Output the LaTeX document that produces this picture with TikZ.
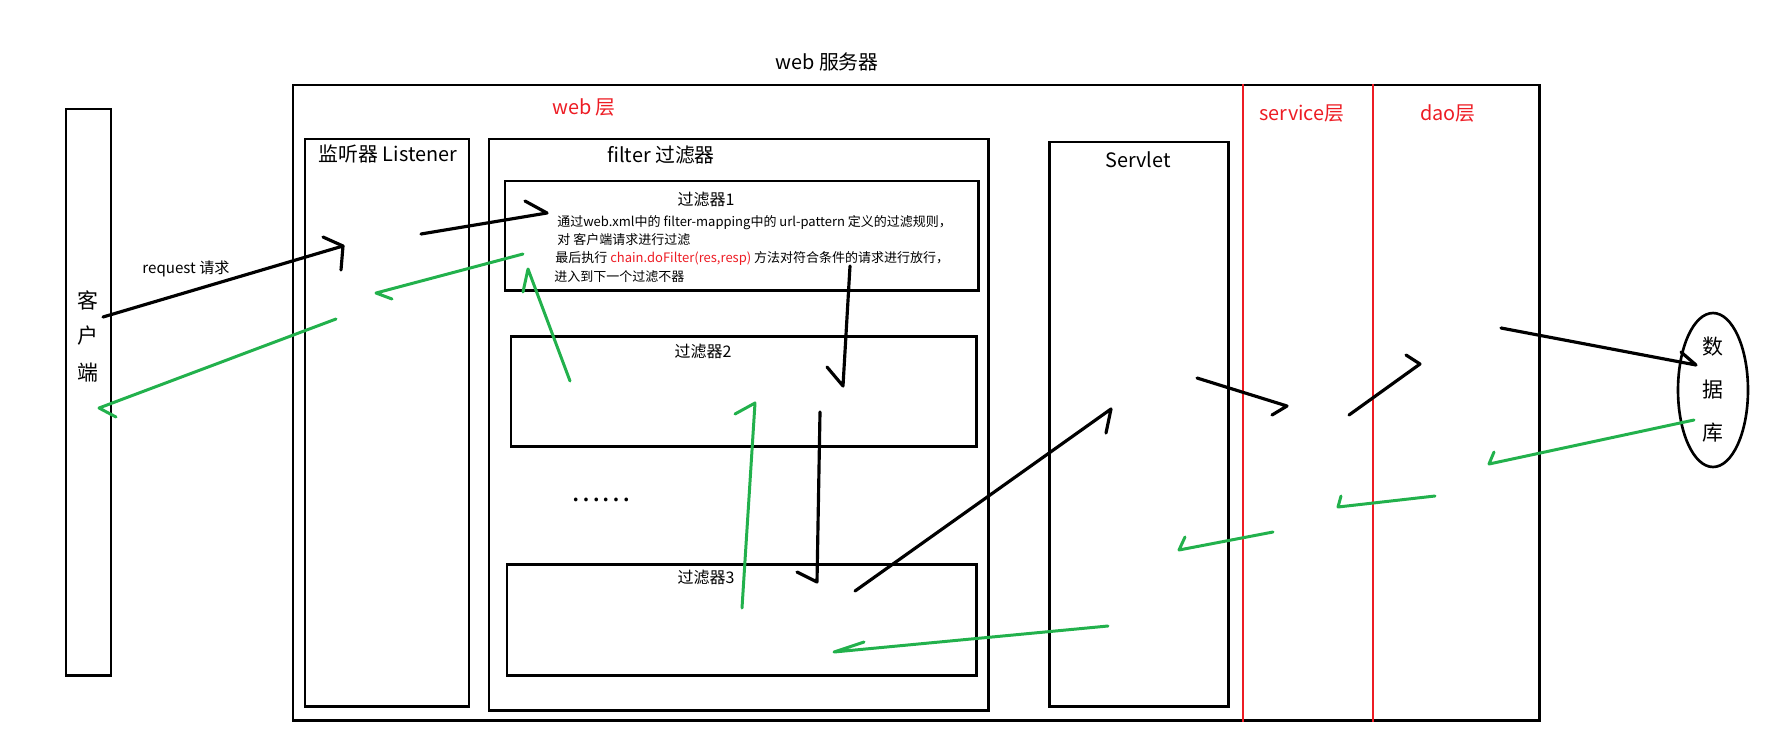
\documentclass[tikz,border=0pt]{standalone}
\usepackage{fontspec}
\setmainfont{Noto Sans CJK SC}
\usetikzlibrary{fit,shapes.geometric}
\definecolor{paintred}{HTML}{ED1C24}
\definecolor{paintgreen}{HTML}{22B14C}
\begin{document}
\begin{tikzpicture}[x=0.02cm,y=-0.02cm,
  box/.style={draw=black, line width=1.7pt, inner sep=0pt},
  blk/.style={draw=black, line width=1.8pt, line cap=round, line join=round},
  grn/.style={draw=paintgreen, line width=1.7pt, line cap=round, line join=round},
  redline/.style={draw=paintred, line width=1.5pt},
  big/.style={inner sep=0pt, font=\fontsize{11.3}{13}\selectfont},
  mid/.style={inner sep=0pt, font=\fontsize{9.1}{11}\selectfont},
  small/.style={inner sep=0pt, anchor=west, font=\fontsize{7.4}{9}\selectfont},
  req/.style={inner sep=0pt, font=\fontsize{8.6}{10}\selectfont},
  vert/.style={inner sep=0pt, font=\fontsize{11.9}{14}\selectfont},
]
\useasboundingbox (0,0) rectangle (1772,751);

% ---- boxes ----
\node[box, fit={(66,109)(111,675)}] (client) {};
\node[box, fit={(293,85)(1539,720)}] (server) {};
\node[box, fit={(305,139)(469,706)}] (listener) {};
\node[box, fit={(489,139)(988,710)}] (filter) {};
\node[box, fit={(505,181)(978,290)}] (f1) {};
\node[box, fit={(511,336)(976,446)}] (f2) {};
\node[box, fit={(507,564)(976,675)}] (f3) {};
\node[box, fit={(1049,142)(1228,706)}] (servlet) {};
\node[draw=black, line width=1.5pt, ellipse, minimum width=1.4cm, minimum height=3.08cm, inner sep=0pt] (db) at (1713,390) {};

% ---- layer separators ----
\coordinate (s-top) at (1243,84);
\coordinate (s-bot) at (1243,722);
\coordinate (d-top) at (1373,84);
\coordinate (d-bot) at (1373,722);
\draw[redline] (s-top) -- (s-bot);
\draw[redline] (d-top) -- (d-bot);

% ---- labels ----
\node[big] (t-server) at (827,62) {web 服务器};
\node[big, text=paintred] (t-web) at (584,107) {web 层};
\node[big] (t-listener) at (388,154) {监听器 Listener};
\node[big] (t-filter) at (661,155) {filter 过滤器};
\node[big] (t-servlet) at (1138,160) {Servlet};
\node[big, text=paintred] (t-service) at (1302,114) {service层};
\node[big, text=paintred] (t-dao) at (1448,113) {dao层};

\node[vert] (c1) at (88,300) {客};
\node[vert] (c2) at (88,336) {户};
\node[vert] (c3) at (88,373) {端};
\node[vert] (d1) at (1713,347) {数};
\node[vert] (d2) at (1713,390) {据};
\node[vert] (d3) at (1713,433) {库};

\node[mid] (t-f1) at (706,199) {过滤器1};
\node[mid] (t-f2) at (703,351) {过滤器2};
\node[mid] (t-f3) at (706,577) {过滤器3};
\node[inner sep=0pt, font=\fontsize{15.6}{16}\selectfont] (dots) at (601,500) {……};

\node[small] (l1) at (557,223) {通过web.xml中的 filter-mapping中的 url-pattern 定义的过滤规则，};
\node[small] (l2) at (557,240) {对 客户端请求进行过滤};
\node[small] (l3) at (555,258) {最后执行 \textcolor{paintred}{chain.doFilter(res,resp)} 方法对符合条件的请求进行放行，};
\node[small] (l4) at (554,277) {进入到下一个过滤不器};

\node[req] (t-req) at (186,269) {request 请求};

% ---- request path (black) ----
\coordinate (a0) at (103,317); \coordinate (a1) at (343,246);
\coordinate (ab1) at (323,237); \coordinate (ab2) at (341,270);
\draw[blk] (a0) -- (a1);
\draw[blk] (ab1) -- (a1) -- (ab2);

\coordinate (b0) at (421,234); \coordinate (b1) at (547,213); \coordinate (bb) at (525,201);
\draw[blk] (b0) -- (b1) -- (bb);

\coordinate (f0) at (850,266); \coordinate (f1t) at (843,386); \coordinate (fb) at (827,367);
\draw[blk] (f0) -- (f1t) -- (fb);

\coordinate (h0) at (820,412); \coordinate (h1) at (817,582); \coordinate (hb) at (797,572);
\draw[blk] (h0) -- (h1) -- (hb);

\coordinate (i0) at (855,591); \coordinate (i1) at (1111,409); \coordinate (ib) at (1106,433);
\draw[blk] (i0) -- (i1) -- (ib);

\coordinate (j0) at (1197,378); \coordinate (j1) at (1287,406); \coordinate (jb) at (1272,415);
\draw[blk] (j0) -- (j1) -- (jb);

\coordinate (k0) at (1349,415); \coordinate (k1) at (1420,364); \coordinate (kb) at (1406,355);
\draw[blk] (k0) -- (k1) -- (kb);

\coordinate (m0) at (1501,328); \coordinate (m1) at (1696,365); \coordinate (mb) at (1681,352);
\draw[blk] (m0) -- (m1) -- (mb);

% ---- response path (green) ----
\coordinate (n0) at (1694,420); \coordinate (n1) at (1489,464); \coordinate (nb) at (1494,452);
\draw[grn] (n0) -- (n1) -- (nb);

\coordinate (o0) at (1435,496); \coordinate (o1) at (1338,507); \coordinate (ob) at (1341,496);
\draw[grn] (o0) -- (o1) -- (ob);

\coordinate (p0) at (1273,532); \coordinate (p1) at (1179,550); \coordinate (pb) at (1185,537);
\draw[grn] (p0) -- (p1) -- (pb);

\coordinate (q0) at (1108,626); \coordinate (q1) at (834,652); \coordinate (qb) at (864,642);
\draw[grn] (q0) -- (q1) -- (qb);

\coordinate (g0) at (742,608); \coordinate (g1) at (755,403); \coordinate (gb) at (735,414);
\draw[grn] (g0) -- (g1) -- (gb);

\coordinate (e0) at (570,381); \coordinate (e1) at (528,269); \coordinate (eb) at (523,292);
\draw[grn] (e0) -- (e1) -- (eb);

\coordinate (c0) at (523,254); \coordinate (c1t) at (376,293); \coordinate (cb) at (392,299);
\draw[grn] (c0) -- (c1t) -- (cb);

\coordinate (r0) at (336,319); \coordinate (r1) at (99,408); \coordinate (rb) at (116,417);
\draw[grn] (r0) -- (r1) -- (rb);
\end{tikzpicture}
\end{document}
